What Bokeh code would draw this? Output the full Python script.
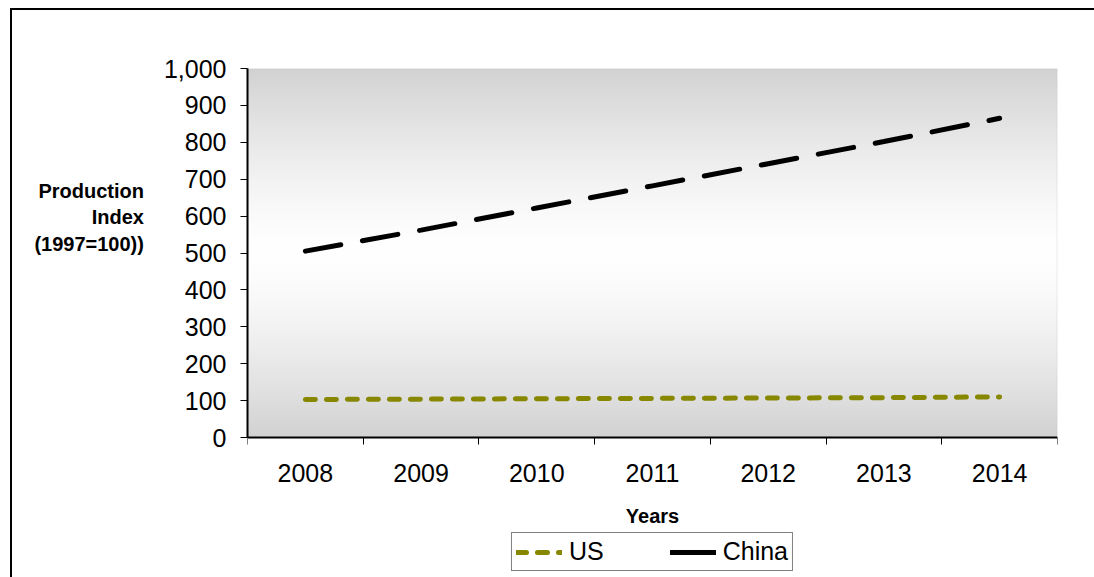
import numpy as np
from bokeh.plotting import figure
from bokeh.models import (FixedTicker, NumeralTickFormatter, Legend, LegendItem,
                          Range1d, BoxAnnotation)
from bokeh.embed import file_html
from bokeh.resources import INLINE

# ---- data ----
years = ["2008", "2009", "2010", "2011", "2012", "2013", "2014"]
us = [103, 104, 105, 106, 107, 108, 110]
china = [505, 562, 622, 682, 742, 802, 865]
y_ticks = [0, 100, 200, 300, 400, 500, 600, 700, 800, 900, 1000]
y_title_lines = ["Production", "Index", "(1997=100))"]
x_title = "Years"
series_names = ["US", "China"]

FONT = "Liberation Sans"

# layout (pixels)
PLOT_W, PLOT_H = 810, 369      # grey plot area
BELOW_H = 140                  # space under the plot area for axis + legend
TITLE_LIFT_LINES = 8           # empty lines that lift the y title block upward

x = list(range(len(years)))
x_lo, x_hi = -0.5, len(years) - 0.5
y_lo, y_hi = y_ticks[0], y_ticks[-1]
y_bottom = y_lo - BELOW_H * (y_hi - y_lo) / PLOT_H

p = figure(frame_width=PLOT_W, frame_height=PLOT_H + BELOW_H,
           x_range=Range1d(x_lo, x_hi), y_range=Range1d(y_bottom, y_hi),
           output_backend="svg", toolbar_location=None,
           min_border_left=247, min_border_right=37,
           min_border_top=68, min_border_bottom=0)

# outer chart frame (top and left edges) drawn behind a transparent canvas border
p.styles = {
    "background-image": "linear-gradient(#000, #000), linear-gradient(#000, #000)",
    "background-position": "10px 8px, 10px 8px",
    "background-size": "2px 100%, 100% 2px",
    "background-repeat": "no-repeat",
    "background-color": "white",
}
p.border_fill_alpha = 0
p.background_fill_color = "white"
p.background_fill_alpha = 0
p.outline_line_color = None
p.xgrid.visible = False
p.ygrid.visible = False

# gradient background (grey - white - grey)
ny = 300
t = np.linspace(0, 1, ny)
c = (255 - 45 * (np.abs(t - 0.5) / 0.5) ** 1.4).astype(np.uint8)
img = np.empty((ny, 1), dtype=np.uint32)
view = img.view(dtype=np.uint8).reshape((ny, 1, 4))
view[:, 0, 0] = c
view[:, 0, 1] = c
view[:, 0, 2] = c
view[:, 0, 3] = 255
p.image_rgba(image=[img], x=x_lo, y=y_lo, dw=x_hi - x_lo, dh=y_hi - y_lo,
             level="image")

# light grey border of the plot area
p.add_layout(BoxAnnotation(left=x_lo, right=x_hi, bottom=y_lo, top=y_hi,
                           fill_alpha=0, line_color="#bfbfbf", line_width=2,
                           level="underlay"))

# series
china_r = p.line(x, china, line_color="black", line_width=5,
                 line_dash="36 22", line_cap="round")
us_r = p.line(x, us, line_color="#878700", line_width=5,
              line_dash="10 11", line_cap="round")
china_leg = p.line([np.nan], [np.nan], line_color="black", line_width=5,
                   line_cap="round")

# axes
yax = p.yaxis[0]
yax.bounds = (y_lo, y_hi)
yax.ticker = FixedTicker(ticks=y_ticks)
yax.formatter = NumeralTickFormatter(format="0,0")
yax.major_tick_out = 7
yax.major_tick_in = 0
yax.minor_tick_line_color = None
yax.axis_line_width = 2
yax.axis_line_color = "black"
yax.major_tick_line_color = "black"
yax.major_label_text_font = FONT
yax.major_label_text_font_size = "25px"
yax.major_label_text_color = "black"
yax.major_label_standoff = 14
yax.axis_label = "\n".join(y_title_lines) + "\n" * TITLE_LIFT_LINES
yax.axis_label_text_font = FONT
yax.axis_label_text_font_size = "20px"
yax.axis_label_text_font_style = "bold"
yax.axis_label_text_color = "black"
yax.axis_label_standoff = 17
try:
    yax.axis_label_orientation = "horizontal"
except Exception:
    pass

xax = p.xaxis[0]
xax.fixed_location = y_lo
boundaries = [i - 0.5 for i in range(len(years) + 1)]
xax.ticker = FixedTicker(ticks=x, minor_ticks=boundaries)
xax.major_label_overrides = {i: yr for i, yr in zip(x, years)}
xax.major_tick_line_color = None
xax.major_tick_out = 0
xax.major_tick_in = 0
xax.minor_tick_out = 7
xax.minor_tick_in = 0
xax.minor_tick_line_color = "black"
xax.axis_line_width = 2
xax.axis_line_color = "black"
xax.major_label_text_font = FONT
xax.major_label_text_font_size = "25px"
xax.major_label_text_color = "black"
xax.major_label_standoff = 19
xax.axis_label = x_title
xax.axis_label_text_font = FONT
xax.axis_label_text_font_size = "20px"
xax.axis_label_text_font_style = "bold"
xax.axis_label_text_color = "black"
xax.axis_label_standoff = 20

legend = Legend(items=[LegendItem(label=series_names[0], renderers=[us_r]),
                       LegendItem(label=series_names[1], renderers=[china_leg])],
                orientation="horizontal", location="bottom_center",
                border_line_color="black", border_line_width=1,
                padding=4, spacing=66, glyph_width=46, glyph_height=20,
                label_standoff=7, label_text_font=FONT,
                label_text_font_size="25px", label_text_color="black",
                background_fill_color="white", background_fill_alpha=1,
                margin=6)
p.add_layout(legend)

open("out.html", "w").write(file_html(p, INLINE))
